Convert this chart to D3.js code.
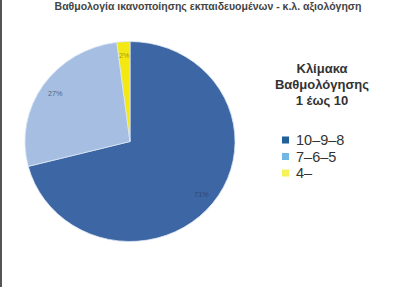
<!DOCTYPE html>
<html>
<head>
<meta charset="utf-8">
<script src="https://cdn.jsdelivr.net/npm/d3@7"></script>
<style>
  body { margin: 0; background: #fff; }
  svg { display: block; font-family: "Liberation Sans", Arial, sans-serif; }
</style>
</head>
<body>
<div id="chart"></div>
<script>
var categories = ["10–9–8", "7–6–5", "4–"];
var values = [71, 27, 2];
var labels = ["71%", "27%", "2%"];
var sliceColors = ["#3d66a4", "#a6bee2", "#f3e812"];
var legendColors = ["#1f6198", "#72b6e4", "#f6f25a"];
var legendTitle = ["Κλίμακα", "Βαθμολόγησης", "1 έως 10"];
var title = "Βαθμολογία ικανοποίησης εκπαιδευομένων - κ.λ. αξιολόγηση";

var width = 394, height = 287;

var svg = d3.select("#chart").append("svg")
    .attr("width", width)
    .attr("height", height);

// left frame line
svg.append("rect")
    .attr("x", 0).attr("y", 0)
    .attr("width", 2).attr("height", height)
    .attr("fill", "#555");

// title, squeezed against the top edge
svg.append("text")
    .attr("x", 208)
    .attr("y", 10)
    .attr("text-anchor", "middle")
    .attr("font-size", 10.5)
    .attr("font-weight", "bold")
    .attr("fill", "#444")
    .text(title);

var pie = d3.pie().sort(null).value(function(d) { return d; });
var radius = 101;

var arc = d3.arc().innerRadius(0).outerRadius(radius);
var labelArc = d3.arc().innerRadius(87).outerRadius(87);

var g = svg.append("g")
    .attr("transform", "translate(130,141.5) scale(1.04,0.99)");

var arcs = pie(values);

g.selectAll("path")
    .data(arcs)
    .enter().append("path")
    .attr("d", arc)
    .attr("fill", function(d, i) { return sliceColors[i]; })
    .attr("stroke", "#dbe6f4")
    .attr("stroke-width", 0.8);

g.selectAll("text")
    .data(arcs)
    .enter().append("text")
    .attr("transform", function(d) { return "translate(" + labelArc.centroid(d) + ")"; })
    .attr("text-anchor", "middle")
    .attr("dy", "0.35em")
    .attr("font-size", 7)
    .attr("fill", function(d, i) { return i == 2 ? "#8a7d10" : "#2c3f60"; })
    .attr("opacity", 0.7)
    .text(function(d, i) { return labels[i]; });

// legend
var legend = svg.append("g");

legend.selectAll("text.title")
    .data(legendTitle)
    .enter().append("text")
    .attr("class", "title")
    .attr("x", 322)
    .attr("y", function(d, i) { return 73 + i * 16; })
    .attr("text-anchor", "middle")
    .attr("font-size", 13)
    .attr("font-weight", "bold")
    .attr("fill", "#333")
    .text(function(d) { return d; });

var item = legend.selectAll("g.item")
    .data(categories)
    .enter().append("g")
    .attr("class", "item")
    .attr("transform", function(d, i) { return "translate(282," + (140 + i * 16.5) + ")"; });

item.append("rect")
    .attr("x", 0).attr("y", -3.5)
    .attr("width", 7).attr("height", 7)
    .attr("fill", function(d, i) { return legendColors[i]; });

item.append("text")
    .attr("x", 14)
    .attr("dy", "0.36em")
    .attr("font-size", 14.5)
    .attr("fill", "#333")
    .text(function(d) { return d; });
</script>
</body>
</html>
